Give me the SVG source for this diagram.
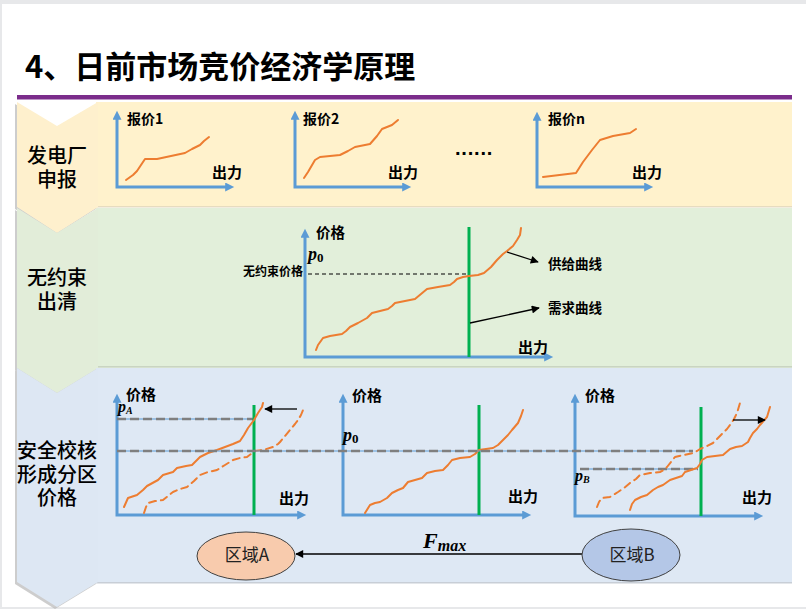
<svg xmlns="http://www.w3.org/2000/svg" width="806" height="609" viewBox="0 0 806 609">
<style>
.cj{font-family:"Noto Sans CJK SC","Noto Sans",sans-serif}
.lab{font-family:"Noto Sans CJK SC","Noto Sans",sans-serif;font-weight:700;fill:#000}
.math{font-family:"Liberation Serif","DejaVu Serif",serif;font-weight:700;font-style:italic;fill:#000}
.axis{fill:none;stroke:#5B9BD5;stroke-width:3;marker-start:url(#ab);marker-end:url(#ab)}
.sup{fill:none;stroke:#ED7D31;stroke-width:2;stroke-linejoin:round;stroke-linecap:round}
.dsh{stroke-dasharray:7 5}
.dem{stroke:#00B050;stroke-width:3}
.blk{stroke:#000;stroke-width:1.3;fill:none;marker-end:url(#ak)}
.gl{stroke:#5B9BD5;stroke-width:1}
.gd{stroke:#7F7F7F;stroke-width:2.5;stroke-dasharray:9 4}
.chev{stroke:none}
.cl{font-family:"Noto Sans CJK SC","Noto Sans",sans-serif;font-size:20px;font-weight:500;fill:#000}
</style>
<defs>
<marker id="ab" viewBox="0 0 10 10" refX="2" refY="5" markerWidth="10" markerHeight="9" markerUnits="userSpaceOnUse" orient="auto-start-reverse"><path d="M0,0L10,5L0,10z" fill="#5B9BD5"/></marker>
<marker id="ak" viewBox="0 0 10 10" refX="9" refY="5" markerWidth="9" markerHeight="8" markerUnits="userSpaceOnUse" orient="auto"><path d="M0,0L10,5L0,10z" fill="#000"/></marker>
</defs>
<rect width="806" height="609" fill="#E7E8EA"/>
<rect x="2" y="4" width="804" height="603" fill="#FFFFFF"/>
<text class="cj" x="25" y="78" font-size="31" font-weight="700" fill="#000">4、日前市场竞价经济学原理</text>
<rect x="17" y="95" width="775" height="4.5" fill="#7B2C8B"/>

<g id="band1">
<rect x="96" y="102" width="696" height="105" fill="#FFF2CC"/>
<rect x="96" y="206" width="696" height="1.5" fill="#E6DCC0"/>
<polygon points="15,104 55,128 96,104 96,209 55,235 15,209" fill="#B8B8B8" opacity="0.7"/>
<polygon class="chev" points="17,102 57,126 98,102 98,207 57,233 17,207" fill="#FEF0CD"/>
<text class="cl" text-anchor="middle"><tspan x="57" y="163">发电厂</tspan><tspan x="57" y="187">申报</tspan></text>
</g>

<g id="band2">
<rect x="96" y="208" width="696" height="160" fill="#E2EFDA"/>
<rect x="96" y="366" width="696" height="1.5" fill="#C9D4C2"/>
<polygon points="15,210 55,235 96,210 96,370 55,395 15,370" fill="#B8B8B8" opacity="0.7"/>
<polygon class="chev" points="17,208 57,233 98,208 98,368 57,393 17,368" fill="#E2EDD9"/>
<text class="cl" text-anchor="middle"><tspan x="57" y="285">无约束</tspan><tspan x="57" y="309">出清</tspan></text>
</g>

<g id="band3">
<rect x="96" y="368" width="696" height="215" fill="#DEE8F4"/>
<rect x="96" y="582" width="696" height="1.5" fill="#C8CED6"/>
<polygon points="15,370 55,395 96,370 96,584 55,609 15,584" fill="#B8B8B8" opacity="0.7"/>
<polygon class="chev" points="17,368 57,393 98,368 98,582 57,607 17,582" fill="#DDE7F3"/>
<text class="cl" text-anchor="middle"><tspan x="57" y="458">安全校核</tspan><tspan x="57" y="482">形成分区</tspan><tspan x="57" y="505">价格</tspan></text>
</g>

<g id="bid1">
<path class="axis" d="M117,118V187H227"/>
<polyline class="sup" points="126,180 133,175 137,171 145,159 157,159 185,153 192,149 200,145 204,141 209,137"/>
<text class="lab" x="127" y="124" font-size="14">报价1</text>
<text class="lab" x="212" y="178" font-size="15">出力</text>
</g>
<g id="bid2">
<path class="axis" d="M295,118V187H404"/>
<polyline class="sup" points="304,178 308,172 315,160 320,157 340,155 348,151 355,147 370,144 377,136 382,129 392,125 398,120"/>
<text class="lab" x="303" y="124" font-size="14">报价2</text>
<text class="lab" x="388" y="178" font-size="15">出力</text>
</g>
<text id="dots" x="455" y="155" font-family="Liberation Sans,sans-serif" font-weight="700" font-size="20" letter-spacing="0.8">......</text>
<g id="bidn">
<path class="axis" d="M537,119V187H646"/>
<polyline class="sup" points="543,177 576,173 583,162 592,150 600,140 613,136 630,133 636,129"/>
<text class="lab" x="548" y="124" font-size="14">报价n</text>
<text class="lab" x="632" y="178" font-size="15">出力</text>
</g>

<g id="clear">
<path class="axis" d="M305,236V357H546"/>
<line x1="308" y1="274" x2="468" y2="274" stroke="#000" stroke-width="1.2" stroke-dasharray="4 3"/>
<line class="dem" x1="469" y1="227" x2="469" y2="357"/>
<polyline class="sup" points="316,350 318,345 323,338 330,336 342,334 346,331 350,327 358,323 367,318 370,315 372,313 380,311 388,309 392,306 395,303 405,301 415,299 421,294 427,289 438,287 450,285 454,282 457,279 463,277 469,276 478,275 484,273 491,267 497,260 503,254 507,251 513,246 517,240 520,235 521,228"/>
<text class="lab" x="316" y="238" font-size="14.5">价格</text>
<text class="math" x="308" y="260" font-size="18">p<tspan font-size="13" font-style="normal" dy="2">0</tspan></text>
<text class="lab" x="243" y="276" font-size="12">无约束价格</text>
<text class="lab" x="548" y="269" font-size="13.5">供给曲线</text>
<text class="lab" x="548" y="313" font-size="13.5">需求曲线</text>
<text class="lab" x="518" y="353" font-size="15">出力</text>
</g>

<g id="zoneA">
<path class="axis" d="M117,401V515H299"/>
<line class="gl" x1="117" y1="419" x2="253" y2="419"/>
<line class="gd" x1="117" y1="419" x2="253" y2="419"/>
<line class="dem" x1="254" y1="405" x2="254" y2="515"/>
<polyline class="sup" points="124,507 128,498 137,495 143,490 147,486 158,480 163,475 173,472 177,468 186,466 192,465 196,461 200,457 208,453 217,450 225,447 233,444 240,441 244,435 248,428 254,420 258,413 262,407 263,403"/>
<polyline class="sup dsh" points="144,513 146,507 148,503 155,501 163,500 168,496 173,492 180,489 187,487 194,481 200,475 208,472 217,470 225,465 233,460 240,458 247,457 251,454 254,451 263,450 273,447 278,444 280,442 285,436 290,430 295,424 298,420 301,415 303,410"/>
<text class="lab" x="126" y="400" font-size="15">价格</text>
<text class="math" x="118" y="412" font-size="16">p<tspan font-size="10" dy="2">A</tspan></text>
<text class="lab" x="279" y="504" font-size="15">出力</text>
</g>

<g id="zoneMid">
<path class="axis" d="M343,401V515H524"/>
<line class="dem" x1="479" y1="405" x2="479" y2="515"/>
<polyline class="sup" points="365,513 370,505 375,503 380,502 387,498 392,493 398,490 403,488 408,482 415,480 422,478 427,473 435,471 443,470 448,465 452,460 460,458 470,457 475,454 479,450 486,449 493,448 498,445 503,440 508,435 512,430 518,423 521,416 523,410"/>
<text class="lab" x="352" y="401" font-size="15">价格</text>
<text class="math" x="343" y="441" font-size="18">p<tspan font-size="13" font-style="normal" dy="2">0</tspan></text>
<text class="lab" x="508" y="502" font-size="15">出力</text>
</g>

<g id="zoneB">
<path class="axis" d="M575,401V516H756"/>
<line class="gl" x1="580" y1="469" x2="698" y2="469"/>
<line class="gd" x1="580" y1="469" x2="698" y2="469"/>
<line class="dem" x1="701" y1="407" x2="701" y2="516"/>
<polyline class="sup" points="630,510 632,504 635,500 641,497 647,495 653,490 658,487 663,485 670,480 676,478 682,476 685,472 691,470 697,468 700,464 702,460 707,457 715,456 723,455 730,449 736,447 742,446 748,442 750,438 753,433 757,429 760,425 767,417 770,407"/>
<polyline class="sup dsh" points="597,507 599,502 602,498 610,497 618,492 624,488 630,483 636,479 640,475 650,473 660,472 664,470 667,467 671,462 675,457 684,455 693,453 697,451 700,449 707,446 713,443 718,438 723,433 727,429 730,425 734,419 737,413 740,403"/>
<text class="lab" x="585" y="401" font-size="15">价格</text>
<text class="math" x="575" y="481" font-size="16">p<tspan font-size="10" dy="2">B</tspan></text>
<text class="lab" x="742" y="503" font-size="15">出力</text>
</g>

<g id="connectors">
<line class="gl" x1="117" y1="451" x2="693" y2="451"/>
<line class="gd" x1="117" y1="451" x2="693" y2="451"/>
<line class="blk" x1="507" y1="252" x2="538" y2="262"/>
<line class="blk" x1="470" y1="323" x2="539" y2="308"/>
<line class="blk" x1="297" y1="409" x2="265" y2="409"/>
<line class="blk" x1="733" y1="420" x2="765" y2="420"/>
<line class="blk" x1="582" y1="554" x2="296" y2="554" stroke-width="2"/>
<text class="math" x="423" y="548" font-size="22">F<tspan font-size="16" dy="3">max</tspan></text>
</g>

<g id="areaA">
<ellipse cx="246" cy="556" rx="49" ry="24" fill="#F8CBAD" stroke="#404040" stroke-width="1"/>
<text class="cj" x="247" y="561" font-size="17" text-anchor="middle" fill="#222">区域A</text>
</g>
<g id="areaB">
<ellipse cx="631" cy="555" rx="49" ry="26" fill="#B4C7E7" stroke="#404040" stroke-width="1"/>
<text class="cj" x="632" y="561" font-size="17" text-anchor="middle" fill="#222">区域B</text>
</g>
</svg>
